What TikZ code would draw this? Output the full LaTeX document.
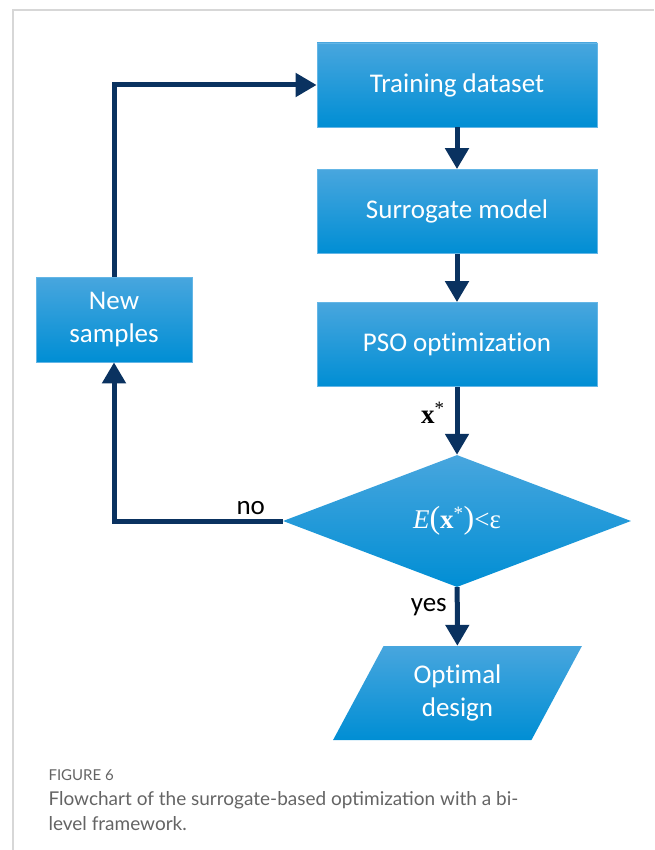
\documentclass[tikz,border=0pt]{standalone}
\usepackage{fontspec}
\setmainfont{Carlito}[Ligatures={NoCommon,NoContextual}]
\newfontfamily\timesfont{Liberation Serif}
\newfontfamily\legendfont{Lato}
\usetikzlibrary{shapes.geometric,arrows.meta}
\definecolor{navy}{RGB}{10,50,96}
\definecolor{bluetop}{RGB}{72,166,222}
\definecolor{bluebot}{RGB}{0,142,212}
\definecolor{blueline}{RGB}{100,182,230}
\definecolor{framegray}{RGB}{215,215,215}
\definecolor{capgray}{RGB}{100,100,100}
\tikzset{bloc/.style={
    top color=bluetop, bottom color=bluebot, text=white,
    font=\fontsize{27}{33}\selectfont, align=center, inner sep=0pt},
  boite/.style={bloc, draw=blueline, line width=0.8pt,
    minimum width=280pt, minimum height=84pt},
  flux/.style={draw=navy, line width=5pt,
    -{Triangle[width=23pt,length=21pt]}},
  etiq/.style={font=\fontsize{27}{33}\selectfont, text=black}}

\begin{document}
\begin{tikzpicture}[x=1pt,y=-1pt]
\useasboundingbox (0,0) rectangle (654,850);
  % cadre
\draw[framegray, line width=1.5pt] (13,850) -- (13,10) -- (654,10);

  % blocs
\node[boite] (train) at (457,85) {Training dataset};
\node[boite] (surr) at (457,211.5) {Surrogate model};
\node[boite] (pso) at (457,344.5) {PSO optimization};
\node[boite, minimum width=156pt, minimum height=85pt] (new) at (114,319.5) {New\\samples};
\node[bloc, shape=diamond, minimum width=348pt, minimum height=132pt] (test) at (457,521)
  {{\timesfont\itshape E}{\timesfont\fontsize{32}{33}\selectfont(}{\timesfont\textbf{x}\textsuperscript{*}}{\timesfont\fontsize{32}{33}\selectfont)}{\timesfont<ε}};
\node[bloc, shape=trapezium, trapezium left angle=62, trapezium right angle=118,
  trapezium stretches=true, minimum width=249pt, minimum height=94pt] (opt) at (457.5,693)
  {Optimal\\design};

  % liaisons
\draw[flux] (train) -- (surr);
\draw[flux] (surr) -- (pso);
\draw[flux] (pso) -- node[etiq, left, pos=0.38, inner sep=10pt]
  {{\timesfont\bfseries x}\textsuperscript{\timesfont *}} (test);
\draw[flux] (test) -- node[etiq, left, pos=0.34, inner sep=8pt] {yes} (opt);
\draw[flux] (test.west) -- node[etiq, above, pos=0.19, inner sep=4pt] {no}
  (test.west -| new.south) -- (new.south);
\draw[flux] (new.north) |- (train.west);

  % légende
\node[anchor=base west, text=capgray, font=\legendfont\fontsize{15}{16}\selectfont] (fig) at (45,780) {FIGURE 6};
\node[anchor=base west, text=capgray, font=\legendfont\fontsize{19}{25}\selectfont] (cap) at (45,805)
  {Flowchart of the surrogate-based optimization with a bi-};
\node[anchor=base west, text=capgray, font=\legendfont\fontsize{19}{25}\selectfont] (cap2) at (45,830)
  {level framework.};
\end{tikzpicture}
\end{document}
